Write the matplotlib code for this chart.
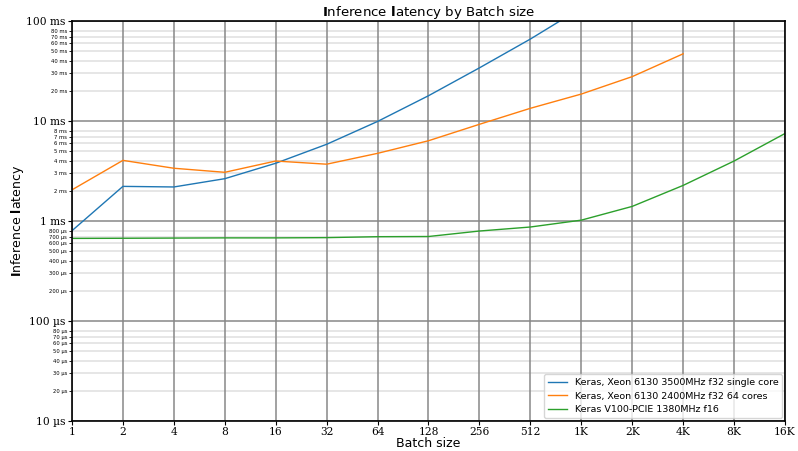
import matplotlib
matplotlib.use("Agg")
import matplotlib.pyplot as plt
from matplotlib.ticker import FixedLocator, NullLocator

# batch sizes (powers of two) and latency in milliseconds
batch_sizes = [2 ** i for i in range(15)]
batch_labels = ["1", "2", "4", "8", "16", "32", "64", "128", "256", "512",
                "1K", "2K", "4K", "8K", "16K"]

xeon_single_ms = [0.80, 2.22, 2.19, 2.65, 3.78, 5.85, 9.9, 17.9, 34.0, 66.0, 135.0]
xeon_64_ms = [2.05, 4.04, 3.37, 3.07, 3.98, 3.70, 4.75, 6.35, 9.27, 13.4, 18.6, 27.8, 47.0]
v100_ms = [0.670, 0.672, 0.675, 0.678, 0.678, 0.682, 0.697, 0.700, 0.794, 0.871,
           1.02, 1.40, 2.27, 3.98, 7.5]

series_names = [
    "Keras, Xeon 6130 3500MHz f32 single core",
    "Keras, Xeon 6130 2400MHz f32 64 cores",
    "Keras V100-PCIE 1380MHz f16",
]

major_y = [1e-5, 1e-4, 1e-3, 1e-2, 1e-1]
major_y_labels = ["10 µs", "100 µs", "1 ms", "10 ms", "100 ms"]


def fmt_minor(v):
    if v >= 1e-3:
        return f"{v * 1e3:.0f} ms"
    return f"{v * 1e6:.0f} µs"


minor_y = []
for dec in [1e-5, 1e-4, 1e-3, 1e-2]:
    for m in range(2, 9):
        minor_y.append(dec * m)
minor_y_labels = [fmt_minor(v) for v in minor_y]

fig = plt.figure(figsize=(7.98, 4.51), dpi=100)
ax = fig.add_axes([0.0902, 0.0665, 0.8935, 0.8869])

ax.plot(batch_sizes[:len(xeon_single_ms)], [v / 1e3 for v in xeon_single_ms],
        color="#1f77b4", linewidth=1, label=series_names[0])
ax.plot(batch_sizes[:len(xeon_64_ms)], [v / 1e3 for v in xeon_64_ms],
        color="#ff7f0e", linewidth=1, label=series_names[1])
ax.plot(batch_sizes[:len(v100_ms)], [v / 1e3 for v in v100_ms],
        color="#2ca02c", linewidth=1, label=series_names[2])

ax.set_xscale("log", base=2)
ax.set_yscale("log")
ax.set_xlim(1, 2 ** 14)
ax.set_ylim(1e-5, 1e-1)

ax.set_xticks(batch_sizes)
ax.set_xticklabels(batch_labels)
ax.xaxis.set_minor_locator(NullLocator())

ax.yaxis.set_major_locator(FixedLocator(major_y))
ax.set_yticklabels(major_y_labels)
ax.set_yticks(minor_y, labels=minor_y_labels, minor=True)

ax.tick_params(which="major", labelsize=7.7, labelfontfamily="DejaVu Serif",
               length=3, pad=1.5)
ax.tick_params(which="minor", labelsize=3.8, labelfontfamily="DejaVu Sans",
               length=2, pad=1.5, colors="black")

# light minor lines sit under the gray major grid
for v in minor_y:
    ax.axhline(v, color="#e6e6e6", linewidth=1.4, zorder=0.2)
ax.grid(True, which="major", color="#878787", linewidth=1.1)
ax.set_axisbelow(True)

for s in ax.spines.values():
    s.set_linewidth(1.2)

ax.set_title(r"$\mathbf{I}$nference $\mathbf{l}$atency by Batch size",
             fontsize=9.6, pad=2)
ax.set_xlabel("Batch size", fontsize=9, labelpad=0)
ax.set_ylabel(r"$\mathbf{I}$nference $\mathbf{l}$atency", fontsize=9, labelpad=0)

ax.legend(loc="lower right", fontsize=6.8, borderaxespad=0.3)

fig.savefig("out.png", dpi=100)
